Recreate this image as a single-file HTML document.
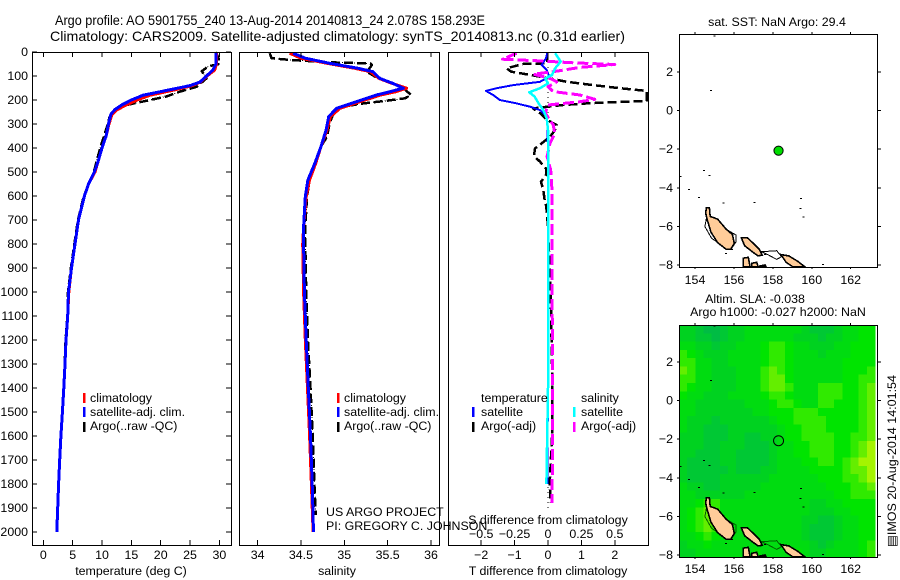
<!DOCTYPE html>
<html>
<head>
<meta charset="utf-8">
<title>Argo profile</title>
<style>
html,body{margin:0;padding:0;background:#fff;}
svg{display:block;}
text{font-family:"Liberation Sans",Arial,sans-serif;fill:#000;font-size:12.4px;}
</style>
</head>
<body>
<svg id="chart" xmlns="http://www.w3.org/2000/svg" width="900" height="580" viewBox="0 0 900 580"></svg>
<script>
// ---- Temperature panel data
const depthTempSat = [0,50,75,100,125,140,160,180,200,220,240,260,300,350,400,450,500,550,600,700,800,900,1000,1100,1200,1300,1400,1500,1600,1700,1800,1900,2000];
const tempSatellite = [29.4,29.4,28.9,27.8,26.7,25,21,17,15,13.4,12.2,11.5,11.1,10.7,10,9.4,8.7,7.7,7,6,5.4,4.8,4.3,4.15,3.87,3.7,3.5,3.25,3,2.8,2.6,2.45,2.3];
const tempClimatology = [29.5,29.5,29.2,27.9,26.8,25.4,22,18.2,16,14.2,12.6,11.7,11.2,10.7,10,9.4,8.8,7.7,7,6,5.4,4.8,4.35,4.15,3.87,3.7,3.5,3.25,3,2.8,2.6,2.45,2.3];
const depthTempArgo = [0,30,50,60,80,110,145,165,185,200,215,225,240,270,300,400,500,600,700,800,900,1000,1100,1200,1400,1600,1800,1900];
const tempArgo = [29.4,29.9,30,28.1,27,27.8,26.1,23.3,21,18.2,15.3,13.4,12,11.3,11,9.7,8.6,6.9,5.9,5.3,4.7,4.2,4.1,3.8,3.5,3,2.6,2.45];
// ---- Salinity panel data
const depthSalSat = [5,26,47,68,82,110,131,151,165,179,207,235,269,325,395,464,533,603,728,800,1000,1200,1400,1600,1800,2000];
const salSatellite = [34.41,34.55,34.83,35.16,35.33,35.41,35.56,35.68,35.53,35.37,35.14,34.91,34.82,34.79,34.73,34.66,34.58,34.55,34.53,34.53,34.54,34.56,34.585,34.61,34.63,34.645];
const salClimatology = [34.37,34.5,34.8,35.12,35.3,35.4,35.55,35.72,35.6,35.42,35.18,34.95,34.84,34.8,34.73,34.67,34.6,34.56,34.53,34.52,34.53,34.55,34.575,34.6,34.62,34.64];
const depthSalArgo = [5,26,33,43,48,54,82,110,138,151,179,193,203,214,225,242,297,353,400,464,533,603,728,800,1000,1200,1400,1600,1800,1930];
const salArgo = [34.14,34.16,34.37,34.83,35.3,35.32,35.26,35.39,35.62,35.68,35.77,35.7,35.49,35.22,35.03,34.89,34.83,34.8,34.72,34.67,34.6,34.57,34.55,34.55,34.56,34.58,34.61,34.635,34.655,34.67];
// ---- Difference panel data
const depthDiffTSat = [5,26,54,75,103,124,138,151,162,179,200,214,228,242,262,283,325,600,1000,1400,1800];
const diffTSatellite = [-0.02,-0.06,-0.19,-0.04,0.04,-0.24,-1.04,-1.54,-1.86,-1.64,-1.44,-0.94,-0.54,-0.24,-0.09,-0.03,-0.01,0,0,0,-0.02];
const depthDiffTArgo = [5,47,50,68,82,93,110,124,138,151,162,204,207,214,221,235,255,283,304,325,353,381,402,433,457,485,513,541,575,618,645,728,1000,1300,1600,1800,1880];
const diffTArgo = [-0.02,-0.02,-0.75,-1.24,-1.1,-0.64,0.06,0.56,1.35,2.15,2.95,2.95,2.25,1.16,0.45,-0.45,-0.24,-0.03,0.26,0.21,0.06,-0.19,-0.39,-0.42,-0.24,-0.06,-0.06,-0.21,-0.14,-0.1,-0.05,0,0.08,0.12,0.12,0.05,0.08];
const depthDiffSSat = [5,40,68,96,110,131,151,168,186,214,242,276,325,600,1000,1400,1800];
const diffSSatellite = [0.053,0.095,0.053,0.03,-0.02,0,-0.06,-0.14,-0.1,-0.07,-0.035,-0.01,0,0,0,0,-0.012];
const depthDiffSArgo = [5,30,37,45,52,64,82,92,110,124,145,165,179,197,207,221,255,304,339,381,436,492,575,728,1000,1300,1600,1880];
const diffSArgo = [-0.235,-0.34,-0.06,0.19,0.5,0.24,0.04,-0.11,0.015,0.065,0,0.04,0.24,0.35,0.24,0,-0.02,0.04,0.05,0.015,-0.007,0.02,0.03,0.03,0.03,0.035,0.035,0.03];
// ---- Axis tick labels
const depthTicks = [0,100,200,300,400,500,600,700,800,900,1000,1100,1200,1300,1400,1500,1600,1700,1800,1900,2000];
const tempTicks = [0,5,10,15,20,25,30];
const salTicks = [34,34.5,35,35.5,36];
const salTickLabels = ['34','34.5','35','35.5','36'];
const diffTTicks = [-2,-1,0,1,2];
const diffSTicks = [-0.5,-0.25,0,0.25,0.5];
const lonTicks = [154,156,158,160,162];
const latTicks = [2,0,-2,-4,-6,-8];
// ---- Map data (lon/lat)
const floatLon = 158.293;
const floatLat = -2.078;
const islandA = [[154.58,-5.04],[154.74,-5.04],[154.78,-5.48],[155.16,-5.62],[155.6,-6.14],[155.92,-6.42],[156.02,-6.88],[155.84,-7.18],[155.6,-7.18],[155.16,-6.84],[154.82,-6.3],[154.64,-5.7],[154.55,-5.32]];
const islandB = [[156.38,-6.58],[156.68,-6.58],[157.04,-6.92],[157.3,-7.18],[157.46,-7.5],[157.22,-7.52],[156.88,-7.26],[156.55,-7]];
const islandC = [[158.42,-7.46],[158.82,-7.53],[159.26,-7.8],[159.64,-8.09],[159.02,-8.09],[158.68,-7.86]];
const islandD = [[156.48,-7.65],[156.74,-7.6],[156.83,-8.09],[156.48,-8.09]];
const islandE = [[156.91,-7.91],[157.17,-7.86],[157.25,-8.09],[156.91,-8.09]];
const islandF = [[157.34,-8.05],[157.6,-8],[157.65,-8.09],[157.34,-8.09]];
const shelfA = [[154.6,-5.5],[154.51,-6.01],[154.86,-6.62],[155.37,-6.96],[155.88,-7.14],[156.11,-6.79],[156.11,-6.45],[155.8,-6.27]];
const shelfB = [[157.42,-7.31],[158.2,-7.26],[158.45,-7.57],[158.2,-7.71],[157.77,-7.48]];
const smallIslands = [[154.82,1.05],[154.99,3.87],[154.46,-3.11],[154.74,-3.37],[153.26,-3.42],[153.69,-4.08],[154.2,-4.49],[155.46,-4.8],[157.05,-4.75],[159.45,-4.56],[159.41,-5.06],[159.57,-5.5],[155.59,-7.41],[160.59,-7.97],[155.9,-7.2],[157.6,-7.45]];
// ---- Sea-level anomaly field, colour class per cell, north to south
const slaColors = ['#00bc44','#00c834','#00d220','#00dc10','#00e400','#30ea00','#64ee00','#a4f400'];
const slaRows = [
[2,2,1,0,0,1,2,2,3,3,3,3,3,3,3,2,1,1,1,2,3,3,4,4],
[2,2,1,1,0,1,2,2,3,3,3,3,3,3,2,2,2,1,2,2,3,3,4,4],
[3,3,2,2,1,2,2,3,3,3,4,5,5,4,3,3,2,2,2,3,3,4,4,4],
[5,4,3,2,2,2,3,3,3,3,4,5,5,4,3,3,3,2,3,3,3,4,4,4],
[5,5,3,3,2,2,3,3,3,3,4,5,5,4,3,3,3,3,3,3,4,4,4,4],
[6,5,3,3,2,2,2,3,3,3,5,6,5,4,3,3,3,3,3,3,4,4,4,5],
[5,5,3,3,2,2,2,3,3,3,5,6,6,4,3,3,3,3,3,3,4,4,5,5],
[5,4,3,3,2,2,2,3,3,3,5,6,6,5,3,3,3,5,5,5,4,4,5,6],
[4,3,3,2,2,2,3,3,3,3,4,5,5,4,3,3,3,5,5,5,4,4,5,6],
[3,3,2,2,2,2,2,2,3,3,3,4,5,5,4,3,3,5,5,4,4,4,5,6],
[3,3,2,2,2,2,2,2,2,3,3,4,4,4,5,5,5,4,4,4,4,4,5,6],
[3,2,2,2,1,2,2,2,2,2,2,3,4,4,5,5,5,5,4,4,4,4,5,6],
[3,2,2,1,1,1,2,2,2,2,2,2,3,4,4,5,5,5,4,4,4,4,5,6],
[2,2,2,1,1,1,2,2,1,1,2,2,3,4,4,5,5,5,5,4,4,5,5,6],
[2,2,2,1,1,2,2,2,1,1,1,2,3,3,4,4,5,5,5,4,4,5,6,7],
[2,2,1,1,1,2,2,1,1,1,1,2,3,3,4,4,5,5,5,4,4,5,6,7],
[2,1,1,1,1,2,2,1,1,1,1,2,3,3,3,4,4,5,5,4,5,6,7,7],
[2,1,1,1,1,1,2,1,1,1,2,2,3,3,3,3,4,4,4,4,5,6,6,7],
[2,1,1,1,1,2,2,2,2,2,2,3,3,3,3,3,3,4,4,4,5,5,6,7],
[3,2,2,1,1,2,2,2,2,2,3,3,3,3,3,3,3,3,4,4,4,5,5,6],
[3,3,2,2,2,2,2,2,3,3,3,3,3,3,3,3,3,3,3,4,4,5,5,5],
[3,3,4,5,5,3,3,3,3,3,3,3,3,3,3,3,2,2,3,3,4,4,4,4],
[3,4,5,6,5,3,3,3,3,3,3,3,3,3,3,3,2,2,2,3,3,4,4,4],
[3,4,5,6,5,4,3,3,3,3,3,3,3,3,3,2,2,1,1,2,3,3,4,4],
[3,4,5,6,5,4,3,3,3,3,3,3,3,3,3,2,1,1,1,2,3,3,4,4],
[3,3,4,5,4,3,3,3,3,3,3,3,3,3,3,2,1,1,1,2,3,3,4,4],
[2,3,3,4,3,3,3,3,3,3,3,3,3,3,3,3,2,1,2,3,3,3,4,5],
[2,2,3,3,3,3,3,3,3,4,3,3,3,3,4,3,2,2,3,3,3,3,4,5]
];

const NS = 'http://www.w3.org/2000/svg';
const svg = document.getElementById('chart');

// axis functions
const yDepth = d => 52 + d * 0.24;
const xTemp = t => 43.3 + t * 5.87;
const xSal = s => 344.3 + (s - 35) * 86.7;
const xDiffT = t => 548 + t * 33.4;
const xDiffS = s => 548 + s * 133.6;
const xLon = lon => 695 + (lon - 154) * 19.46;
const yLatTop = lat => 72 + (2 - lat) * 19.3;
const yLatBottom = lat => 362 + (2 - lat) * 19.3;

function make(tag, attrs, parent) {
  const el = document.createElementNS(NS, tag);
  for (const k in attrs) el.setAttribute(k, attrs[k]);
  (parent || svg).appendChild(el);
  return el;
}
function label(str, x, y, anchor, name, size, parent) {
  const el = make('text', {x: x, y: y, 'text-anchor': anchor || 'start'}, parent);
  if (size) el.style.fontSize = size + 'px';
  el.textContent = str;
  
  
  return el;
}
function tick(x1, y1, x2, y2, name) {
  const el = make('line', {x1: x1, y1: y1, x2: x2, y2: y2, stroke: '#000', 'stroke-width': 1, 'shape-rendering': 'crispEdges'});
  
  
}
function frame(x, y, w, h, name) {
  const el = make('rect', {x: x + 0.5, y: y + 0.5, width: w, height: h, fill: 'none', stroke: '#000', 'stroke-width': 1, 'shape-rendering': 'crispEdges'});
  
  
}
function profile(depths, values, xf, color, width, dash, name) {
  const pts = depths.map((d, i) => xf(values[i]).toFixed(1) + ',' + yDepth(d).toFixed(1)).join(' ');
  const el = make('polyline', {points: pts, fill: 'none', stroke: color, 'stroke-width': width, 'stroke-linejoin': 'round', 'shape-rendering': 'crispEdges'});
  if (dash) el.setAttribute('stroke-dasharray', dash);
  
  
}
function legendBar(x, y, color, name) {
  const el = make('rect', {x: x, y: y, width: 2.5, height: 10, fill: color, 'shape-rendering': 'crispEdges'});
  
  
}

// ---- titles
const titleOne = label('Argo profile: AO 5901755_240 13-Aug-2014 20140813_24 2.078S 158.293E', 55, 25, 'start', 'figure-title-line-1', 13.4);
titleOne.setAttribute('textLength', '430');
titleOne.setAttribute('lengthAdjust', 'spacingAndGlyphs');
const titleTwo = label('Climatology: CARS2009. Satellite-adjusted climatology: synTS_20140813.nc (0.31d earlier)', 50, 41, 'start', 'figure-title-line-2', 13.6);
titleTwo.setAttribute('textLength', '575');
titleTwo.setAttribute('lengthAdjust', 'spacingAndGlyphs');

// ---- panel 1: temperature
profile(depthTempArgo, tempArgo, xTemp, '#000', 1, '1 3', 'temperature-argo-raw-line');
profile(depthTempArgo, tempArgo, xTemp, '#000', 2.5, '9 4', 'temperature-argo-qc-line');
profile(depthTempSat, tempClimatology, xTemp, '#ff0000', 3, null, 'temperature-climatology-line');
profile(depthTempSat, tempSatellite, xTemp, '#0000ff', 3, null, 'temperature-satellite-line');
frame(32, 52, 199, 493, 'temperature-plot-frame');
depthTicks.forEach(d => {
  tick(32, yDepth(d), 37, yDepth(d), 'depth-tick-left');
  tick(226, yDepth(d), 231, yDepth(d), 'depth-tick-right');
  label(String(d), 28, yDepth(d) + 4, 'end', 'depth-tick-label');
});
tempTicks.forEach(t => {
  tick(xTemp(t), 52, xTemp(t), 57, 'temperature-tick-top');
  tick(xTemp(t), 540, xTemp(t), 545, 'temperature-tick-bottom');
  label(String(t), xTemp(t), 559, 'middle', 'temperature-tick-label');
});
label('temperature (deg C)', 131, 575, 'middle', 'temperature-axis-title');
legendBar(83, 393, '#ff0000', 'legend-climatology-swatch');
legendBar(83, 407, '#0000ff', 'legend-satellite-swatch');
legendBar(83, 422, '#000', 'legend-argo-swatch');
label('climatology', 90, 402, 'start', 'legend-climatology');
label('satellite-adj. clim.', 90, 416, 'start', 'legend-satellite');
label('Argo(..raw -QC)', 90, 430, 'start', 'legend-argo');

// ---- panel 2: salinity
profile(depthSalArgo, salArgo, xSal, '#000', 1, '1 3', 'salinity-argo-raw-line');
profile(depthSalArgo, salArgo, xSal, '#000', 2.5, '9 4', 'salinity-argo-qc-line');
profile(depthSalSat, salClimatology, xSal, '#ff0000', 3, null, 'salinity-climatology-line');
profile(depthSalSat, salSatellite, xSal, '#0000ff', 3, null, 'salinity-satellite-line');
frame(239, 52, 200, 493, 'salinity-plot-frame');
salTicks.forEach((s, i) => {
  tick(xSal(s), 52, xSal(s), 57, 'salinity-tick-top');
  tick(xSal(s), 540, xSal(s), 545, 'salinity-tick-bottom');
  label(salTickLabels[i], xSal(s), 559, 'middle', 'salinity-tick-label');
});
label('salinity', 337, 575, 'middle', 'salinity-axis-title');
legendBar(337, 393, '#ff0000', 'legend-climatology-swatch');
legendBar(337, 407, '#0000ff', 'legend-satellite-swatch');
legendBar(337, 422, '#000', 'legend-argo-swatch');
label('climatology', 344, 402, 'start', 'legend-climatology');
label('satellite-adj. clim.', 344, 416, 'start', 'legend-satellite');
label('Argo(..raw -QC)', 344, 430, 'start', 'legend-argo');

// ---- panel 3: differences
const zeroLine = make('line', {x1: xDiffT(0), y1: yDepth(0), x2: xDiffT(0), y2: yDepth(1910), stroke: '#000', 'stroke-width': 1, 'stroke-dasharray': '1 4', 'shape-rendering': 'crispEdges'});


profile(depthDiffTArgo, diffTArgo, xDiffT, '#000', 2.5, '9 4', 'temperature-difference-argo-line');
profile(depthDiffTSat, diffTSatellite, xDiffT, '#0000ff', 2, null, 'temperature-difference-satellite-line');
profile(depthDiffSArgo, diffSArgo, xDiffS, '#ff00ff', 3, '11 4', 'salinity-difference-argo-line');
profile(depthDiffSSat, diffSSatellite, xDiffS, '#00ffff', 2.5, null, 'salinity-difference-satellite-line');
frame(448, 52, 200, 493, 'difference-plot-frame');
diffTTicks.forEach(t => {
  tick(xDiffT(t), 52, xDiffT(t), 57, 'difference-tick-top');
  tick(xDiffT(t), 540, xDiffT(t), 545, 'difference-tick-bottom');
  label(String(t).replace('-', '\u2212'), xDiffT(t), 559, 'middle', 'temperature-difference-tick-label');
});
diffSTicks.forEach(s => {
  label(String(s).replace('-', '\u2212'), xDiffS(s), 538, 'middle', 'salinity-difference-tick-label');
});
label('T difference from climatology', 548, 575, 'middle', 'temperature-difference-axis-title');
label('S difference from climatology', 548, 524, 'middle', 'salinity-difference-axis-title');
label('temperature', 481, 402, 'start', 'legend-temperature-heading');
label('satellite', 481, 416, 'start', 'legend-temperature-satellite');
label('Argo(-adj)', 481, 430, 'start', 'legend-temperature-argo');
label('salinity', 581, 402, 'start', 'legend-salinity-heading');
label('satellite', 581, 416, 'start', 'legend-salinity-satellite');
label('Argo(-adj)', 581, 430, 'start', 'legend-salinity-argo');
legendBar(472, 407, '#0000ff', 'legend-temperature-satellite-swatch');
legendBar(472, 422, '#000', 'legend-temperature-argo-swatch');
legendBar(573, 407, '#00ffff', 'legend-salinity-satellite-swatch');
legendBar(573, 422, '#ff00ff', 'legend-salinity-argo-swatch');

// ---- project note
label('US ARGO PROJECT', 326, 516, 'start', 'project-name');
label('PI: GREGORY C. JOHNSON', 326, 530, 'start', 'principal-investigator');

// ---- maps
function drawCoast(yf, shelfColor, prefix) {
  [shelfA, shelfB].forEach(s => {
    const el = make('polygon', {points: s.map(p => xLon(p[0]).toFixed(1) + ',' + yf(p[1]).toFixed(1)).join(' '), fill: 'none', stroke: shelfColor, 'stroke-width': 1, 'shape-rendering': 'crispEdges'});
    
    
  });
  [islandA, islandB, islandC, islandD, islandE, islandF].forEach(s => {
    const el = make('polygon', {points: s.map(p => xLon(p[0]).toFixed(1) + ',' + yf(p[1]).toFixed(1)).join(' '), fill: '#ffcc99', stroke: '#000', 'stroke-width': 1.6, 'shape-rendering': 'crispEdges'});
    
    
  });
  smallIslands.forEach(p => {
    const el = make('rect', {x: xLon(p[0]) - 1, y: yf(p[1]) - 0.5, width: 2, height: 1, fill: '#000', 'shape-rendering': 'crispEdges'});
    
    
  });
}
function mapAxes(top, bottom, yf, prefix) {
  frame(679, top, 198, bottom - top, prefix + '-frame');
  lonTicks.forEach(l => {
    tick(xLon(l), top - 2, xLon(l), top, prefix + '-longitude-tick-top');
    tick(xLon(l), bottom, xLon(l), bottom + 2, prefix + '-longitude-tick-bottom');
    label(String(l), xLon(l), 284 + (top > 100 ? 289 : 0), 'middle', prefix + '-longitude-label');
  });
  latTicks.forEach(l => {
    tick(677, yf(l), 679, yf(l), prefix + '-latitude-tick-left');
    tick(877, yf(l), 881, yf(l), prefix + '-latitude-tick-right');
    label(String(l).replace('-', '\u2212'), 673, yf(l) + 4, 'end', prefix + '-latitude-label');
  });
}

// SST map
label('sat. SST: NaN Argo: 29.4', 777, 26, 'middle', 'sst-map-title');
drawCoast(yLatTop, '#000', 'sst-map');
const sstFloat = make('circle', {cx: xLon(floatLon), cy: yLatTop(floatLat), r: 4.6, fill: '#00dd00', stroke: '#000', 'stroke-width': 1});


mapAxes(34, 267, yLatTop, 'sst-map');

// SLA map
label('Altim. SLA: -0.038', 755, 303, 'middle', 'sla-map-title-line-1');
label('Argo h1000: -0.027 h2000: NaN', 778, 316, 'middle', 'sla-map-title-line-2');
const cols = slaRows[0].length;
const rows = slaRows.length;
const cellW = 196 / cols;
const cellH = 232 / rows;
slaRows.forEach((row, r) => {
  row.forEach((v, c) => {
    const el = make('rect', {x: (679 + c * cellW).toFixed(2), y: (325 + r * cellH).toFixed(2), width: (cellW + 0.5).toFixed(2), height: (cellH + 0.5).toFixed(2), fill: slaColors[v], 'shape-rendering': 'crispEdges'});
    
    
  });
});
drawCoast(yLatBottom, '#006000', 'sla-map');
const slaFloat = make('circle', {cx: xLon(floatLon), cy: yLatBottom(floatLat), r: 5, fill: 'none', stroke: '#000', 'stroke-width': 1});


mapAxes(325, 557, yLatBottom, 'sla-map');

// ---- date stamp
const stamp = label('\u25A4IMOS 20-Aug-2014 14:01:54', 0, 0, 'start', 'imos-date-stamp');
stamp.setAttribute('transform', 'translate(896 547) rotate(-90)');
stamp.setAttribute('textLength', '172');
stamp.setAttribute('lengthAdjust', 'spacingAndGlyphs');
</script>
</body>
</html>
